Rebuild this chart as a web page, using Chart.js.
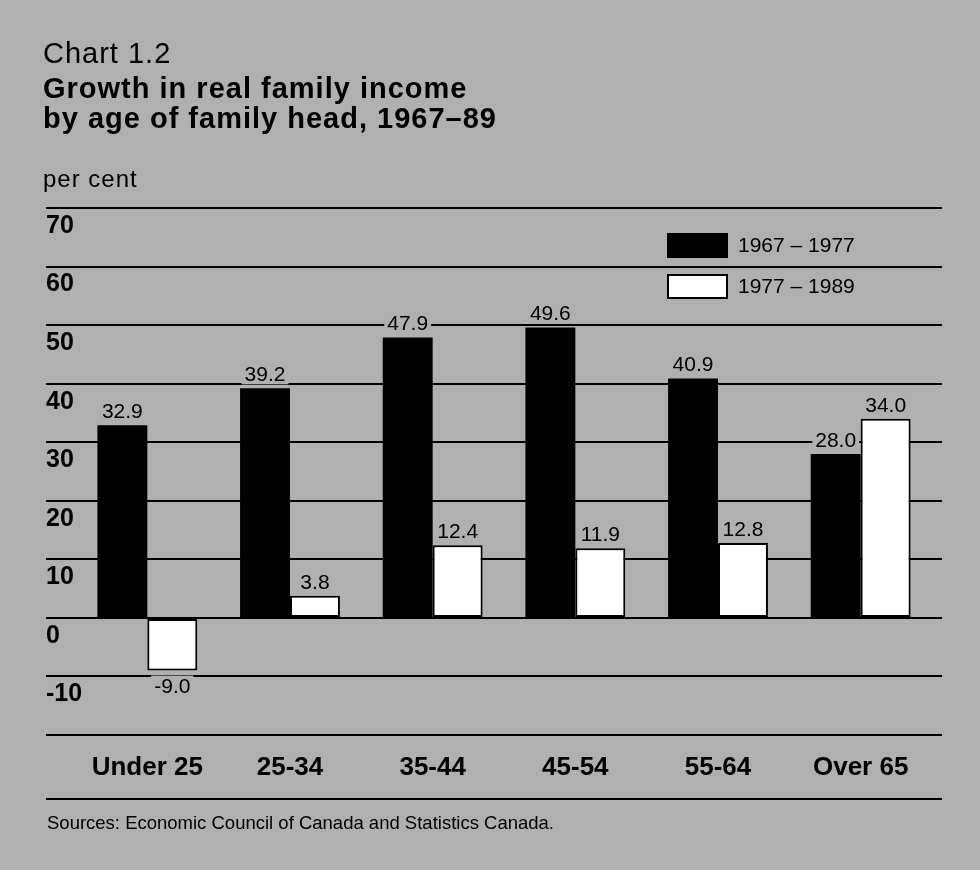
<!DOCTYPE html>
<html>
<head>
<meta charset="utf-8">
<title>Growth in real family income by age of family head, 1967–89</title>
<script src="https://cdn.jsdelivr.net/npm/chart.js@4.4.1/dist/chart.umd.min.js"></script>
<style>
  html, body { margin: 0; padding: 0; }
  body {
    width: 980px; height: 870px; position: relative; overflow: hidden;
    background: #b0b0b0; color: #000;
    font-family: "Liberation Sans", Arial, Helvetica, sans-serif;
  }
  #chart { position: absolute; left: 0; top: 0; }
  .txt { position: absolute; left: 43px; white-space: nowrap; line-height: 1; }
  .head { font-size: 29px; letter-spacing: 1px; }
  .bold { font-weight: bold; }
  #unit { font-size: 24px; top: 167px; letter-spacing: 1px; }
  #rule { position: absolute; left: 46px; width: 896px; top: 798px; height: 2px; background: #000; }
  #source { font-size: 18.5px; left: 47px; top: 814px; }
</style>
</head>
<body>
<canvas id="chart" width="980" height="870"></canvas>
<div class="txt head" style="top:39px">Chart 1.2</div>
<div class="txt head bold" style="top:74px">Growth in real family income</div>
<div class="txt head bold" style="top:104px">by age of family head, 1967–89</div>
<div class="txt" id="unit">per cent</div>
<div id="rule"></div>
<div class="txt" id="source">Sources: Economic Council of Canada and Statistics Canada.</div>
<script>
// age of family head
const ageGroups = ['Under 25', '25-34', '35-44', '45-54', '55-64', 'Over 65'];
const periodLabels = ['1967 – 1977', '1977 – 1989'];
// per cent growth in real family income
const growth1967to1977 = [32.9, 39.2, 47.9, 49.6, 40.9, 28.0];
const growth1977to1989 = [-9.0, 3.8, 12.4, 11.9, 12.8, 34.0];
const yTicks = [-20, -10, 0, 10, 20, 30, 40, 50, 60, 70];

const PAGE_GREY = '#b0b0b0';
const FONT = '"Liberation Sans", Arial, Helvetica, sans-serif';

// value printed above each bar (below for negatives), on a grey patch so rules break around it
const valueLabels = {
    id: 'valueLabels',
    afterDatasetsDraw(chart) {
        const ctx = chart.ctx;
        ctx.save();
        ctx.font = '21px ' + FONT;
        ctx.textAlign = 'center';
        ctx.textBaseline = 'alphabetic';
        chart.data.datasets.forEach((ds, i) => {
            chart.getDatasetMeta(i).data.forEach((bar, j) => {
                const v = ds.data[j];
                const text = v.toFixed(1);
                const w = ctx.measureText(text).width;
                const base = v >= 0 ? bar.y - 7 : bar.y + 22;
                ctx.fillStyle = PAGE_GREY;
                ctx.fillRect(bar.x - w / 2 - 3, base - 17, w + 6, 20);
                ctx.fillStyle = '#000';
                ctx.fillText(text, bar.x, base);
            });
        });
        ctx.restore();
    }
};

// legend boxes sitting inside the plot, top right
const boxLegend = {
    id: 'boxLegend',
    afterDraw(chart) {
        const {ctx, chartArea} = chart;
        const top = chart.scales.y.getPixelForValue(yTicks[yTicks.length - 1]);
        ctx.save();
        ctx.font = '21px ' + FONT;
        ctx.textAlign = 'left';
        ctx.textBaseline = 'middle';
        chart.data.datasets.forEach((ds, i) => {
            const bx = chartArea.left + 591;
            const by = top + 25 + i * 41;
            ctx.fillStyle = ds.backgroundColor;
            ctx.fillRect(bx, by, 61, 25);
            if (ds.borderWidth) {
                ctx.lineWidth = 2;
                ctx.strokeStyle = ds.borderColor;
                ctx.strokeRect(bx + 1, by + 1, 59, 23);
            }
            ctx.fillStyle = '#000';
            ctx.fillText(ds.label, bx + 71, by + 13);
        });
        ctx.restore();
    }
};

const useTicks = scale => { scale.ticks = yTicks.map(v => ({value: v})); };

window.onload = function() {
    const ctx = document.getElementById('chart').getContext('2d');
    new Chart(ctx, {
        type: 'bar',
        data: {
            labels: ageGroups,
            datasets: [{
                label: periodLabels[0],
                data: growth1967to1977,
                backgroundColor: '#000',
                borderWidth: 0
            }, {
                label: periodLabels[1],
                data: growth1977to1989,
                backgroundColor: '#fff',
                borderColor: '#000',
                borderWidth: 2,
                borderSkipped: false
            }]
        },
        options: {
            responsive: false,
            animation: false,
            events: [],
            categoryPercentage: 0.7,
            barPercentage: 1.0,
            layout: { padding: { top: 208, left: 46, right: 38, bottom: 85 } },
            plugins: {
                legend: { display: false },
                title: { display: false },
                tooltip: { enabled: false }
            },
            scales: {
                x: {
                    grid: { display: false, drawTicks: false, tickLength: 0 },
                    border: { display: false },
                    afterFit(scale) { scale.height = 50; },
                    ticks: {
                        color: '#000',
                        padding: 17,
                        maxRotation: 0,
                        font: { family: FONT, size: 26, weight: 'bold' }
                    }
                },
                y: {
                    min: -20,
                    max: 70,
                    afterBuildTicks: useTicks,
                    afterFit(scale) { scale.width = 30; },
                    border: { display: false },
                    grid: { color: '#000', lineWidth: 2, tickLength: 30 },
                    ticks: {
                        color: '#000',
                        // mirrored so the labels are not clipped to the narrow axis box
                        mirror: true,
                        crossAlign: 'near',
                        padding: -30,
                        labelOffset: 18,
                        font: { family: FONT, size: 25, weight: 'bold' },
                        callback: v => (v === -20 ? '' : v)
                    }
                },
                // carries the rules a little past the last group
                yRight: {
                    position: 'right',
                    min: -20,
                    max: 70,
                    afterBuildTicks: useTicks,
                    afterFit(scale) { scale.width = 10; },
                    border: { display: false },
                    grid: { color: '#000', lineWidth: 2, tickLength: 10, drawOnChartArea: false },
                    ticks: { display: false }
                }
            }
        },
        plugins: [valueLabels, boxLegend]
    });
};
</script>
</body>
</html>
